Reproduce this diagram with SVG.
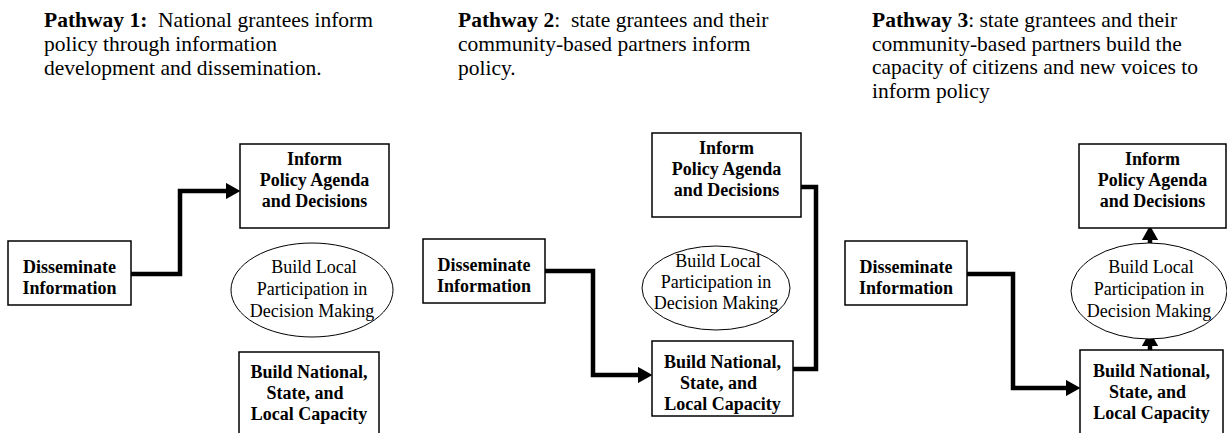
<svg xmlns="http://www.w3.org/2000/svg" width="1227" height="433" viewBox="0 0 1227 433">
<style>
.hd{font-family:"Liberation Serif","Times New Roman",serif;font-size:21.5px;fill:#000;white-space:pre}
.b{font-weight:bold}
.bx{fill:#fff;stroke:#000;stroke-width:1.5}
.el{fill:#fff;stroke:#000;stroke-width:1}
.t{font-family:"Liberation Serif","Times New Roman",serif;font-size:18px;font-weight:bold;text-anchor:middle;fill:#000;white-space:pre}
.r{font-family:"Liberation Serif","Times New Roman",serif;font-size:18px;text-anchor:middle;fill:#000}
.c{fill:none;stroke:#000;stroke-width:4.5;stroke-linejoin:miter}
</style>
<defs>
<marker id="ah" markerWidth="3.2" markerHeight="3.6" refX="0" refY="1.8" orient="auto" markerUnits="strokeWidth">
<path d="M0,0 L3.2,1.8 L0,3.6 Z" fill="#000"/>
</marker>
</defs>

<g id="headers">
<text class="hd" x="44" y="27"><tspan class="b">Pathway 1:</tspan>  National grantees inform</text>
<text class="hd" x="44" y="51">policy through information</text>
<text class="hd" x="44" y="75">development and dissemination.</text>
<text class="hd" x="458" y="27"><tspan class="b">Pathway 2</tspan>:  state grantees and their</text>
<text class="hd" x="458" y="51">community-based partners inform</text>
<text class="hd" x="458" y="75">policy.</text>
<text class="hd" x="872" y="27"><tspan class="b">Pathway 3</tspan>: state grantees and their</text>
<text class="hd" x="872" y="50.5">community-based partners build the</text>
<text class="hd" x="872" y="74">capacity of citizens and new voices to</text>
<text class="hd" x="872" y="97.5">inform policy</text>
</g>

<g id="connectors">
<polyline class="c" points="131,274 180,274 180,191 226,191" marker-end="url(#ah)"/>
<polyline class="c" points="545,271 593,271 593,375 638,375" marker-end="url(#ah)"/>
<polyline class="c" points="793,369 816,369 816,187 801,187"/>
<polyline class="c" points="967,274 1013,274 1013,388 1066,388" marker-end="url(#ah)"/>
<line class="c" x1="1150" y1="350" x2="1150" y2="346" marker-end="url(#ah)"/>
<line class="c" x1="1150" y1="243" x2="1150" y2="240" marker-end="url(#ah)"/>
</g>

<g id="p1-disseminate">
<rect class="bx" x="8" y="241" width="123" height="64"/>
<text class="t" x="69.5" y="273">Disseminate</text>
<text class="t" x="69.5" y="294">Information</text>
</g>
<g id="p1-inform">
<rect class="bx" x="240" y="144" width="149" height="84"/>
<text class="t" x="314.5" y="165">Inform</text>
<text class="t" x="314.5" y="186">Policy Agenda</text>
<text class="t" x="314.5" y="207">and Decisions</text>
</g>
<g id="p1-local">
<ellipse class="el" cx="312" cy="290" rx="81" ry="47"/>
<text class="r" x="314" y="273">Build Local</text>
<text class="r" x="312" y="295">Participation in</text>
<text class="r" x="312" y="317">Decision Making</text>
</g>
<g id="p1-capacity">
<rect class="bx" x="239" y="352" width="140" height="90"/>
<text class="t" x="309" y="378">Build National,</text>
<text class="t" x="305" y="399">State, and</text>
<text class="t" x="309" y="420">Local Capacity</text>
</g>

<g id="p2-disseminate">
<rect class="bx" x="423" y="239" width="122" height="64"/>
<text class="t" x="484" y="271">Disseminate</text>
<text class="t" x="484" y="292">Information</text>
</g>
<g id="p2-inform">
<rect class="bx" x="652" y="133" width="149" height="84"/>
<text class="t" x="726.5" y="154">Inform</text>
<text class="t" x="726.5" y="175">Policy Agenda</text>
<text class="t" x="726.5" y="196">and Decisions</text>
</g>
<g id="p2-local">
<ellipse class="el" cx="716" cy="288" rx="74" ry="42"/>
<text class="r" x="718" y="267">Build Local</text>
<text class="r" x="716" y="288">Participation in</text>
<text class="r" x="716" y="309">Decision Making</text>
</g>
<g id="p2-capacity">
<rect class="bx" x="652" y="341" width="141" height="75"/>
<text class="t" x="722.5" y="368">Build National,</text>
<text class="t" x="718.5" y="389">State, and</text>
<text class="t" x="722.5" y="410">Local Capacity</text>
</g>

<g id="p3-disseminate">
<rect class="bx" x="845" y="241" width="122" height="64"/>
<text class="t" x="906" y="273">Disseminate</text>
<text class="t" x="906" y="294">Information</text>
</g>
<g id="p3-inform">
<rect class="bx" x="1079" y="144" width="147" height="84"/>
<text class="t" x="1152.5" y="165">Inform</text>
<text class="t" x="1152.5" y="186">Policy Agenda</text>
<text class="t" x="1152.5" y="207">and Decisions</text>
</g>
<g id="p3-local">
<ellipse class="el" cx="1149" cy="291" rx="78" ry="48"/>
<text class="r" x="1151" y="273">Build Local</text>
<text class="r" x="1149" y="295">Participation in</text>
<text class="r" x="1149" y="317">Decision Making</text>
</g>
<g id="p3-capacity">
<rect class="bx" x="1080" y="350" width="143" height="92"/>
<text class="t" x="1151.5" y="377">Build National,</text>
<text class="t" x="1147.5" y="398">State, and</text>
<text class="t" x="1151.5" y="419">Local Capacity</text>
</g>
</svg>
